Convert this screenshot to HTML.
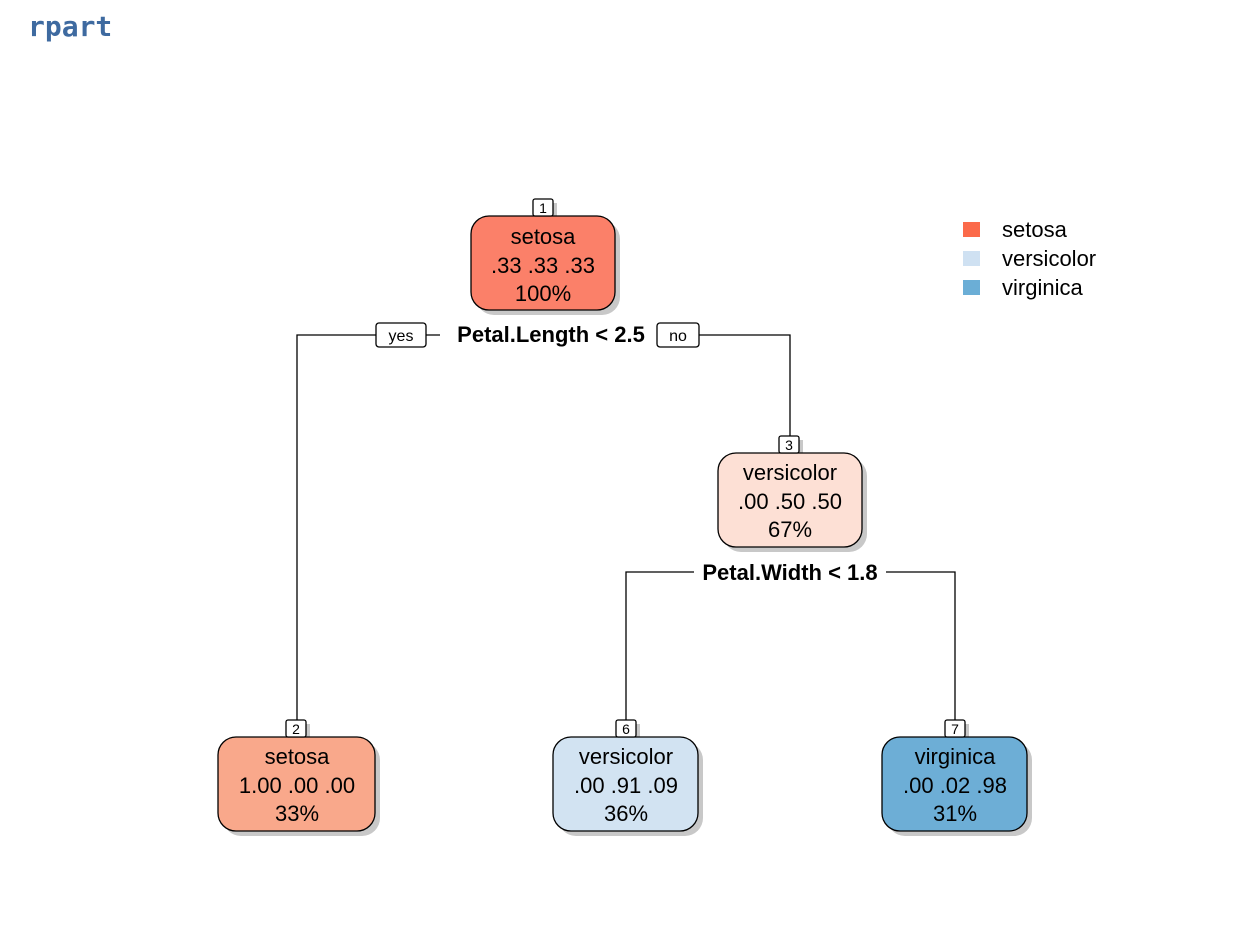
<!DOCTYPE html>
<html><head><meta charset="utf-8"><style>
html,body{margin:0;padding:0;background:#fff;width:1242px;height:926px;overflow:hidden}
svg{display:block}
text{font-family:"Liberation Sans",sans-serif}
</style></head><body>
<svg width="1242" height="926" viewBox="0 0 1242 926" xmlns="http://www.w3.org/2000/svg">
<text x="28" y="36" style="font-family:'DejaVu Sans Mono','Liberation Mono',monospace;font-weight:bold;font-size:28px" fill="#3e6aa0">rpart</text>
<g stroke="#000" stroke-width="1.3" fill="none">
<path d="M297 720 V335 H376 M426 335 H440 M662 335 H657 M699 335 H790 V436"/>
<path d="M626 720 V572 H694 M886 572 H955 V720"/>
</g>
<!-- shadows -->
<g fill="#c8c8c8">
<rect x="476" y="221" width="144" height="94" rx="18"/>
<rect x="723" y="458" width="144" height="94" rx="18"/>
<rect x="223" y="742" width="157" height="94" rx="18"/>
<rect x="558" y="742" width="145" height="94" rx="18"/>
<rect x="887" y="742" width="145" height="94" rx="18"/>
<rect x="537" y="203" width="20" height="17"/>
<rect x="783" y="440" width="20" height="17"/>
<rect x="290" y="724" width="20" height="17"/>
<rect x="620" y="724" width="20" height="17"/>
<rect x="949" y="724" width="20" height="17"/>
</g>
<g stroke="#000" stroke-width="1.3">
<rect x="471" y="216" width="144" height="94" rx="18" fill="#fb8069"/>
<rect x="718" y="453" width="144" height="94" rx="18" fill="#fde0d5"/>
<rect x="218" y="737" width="157" height="94" rx="18" fill="#f9a88b"/>
<rect x="553" y="737" width="145" height="94" rx="18" fill="#d2e3f2"/>
<rect x="882" y="737" width="145" height="94" rx="18" fill="#6daed6"/>
<g fill="#fff">
<rect x="533" y="199" width="20" height="17" rx="2"/>
<rect x="779" y="436" width="20" height="17" rx="2"/>
<rect x="286" y="720" width="20" height="17" rx="2"/>
<rect x="616" y="720" width="20" height="17" rx="2"/>
<rect x="945" y="720" width="20" height="17" rx="2"/>
<rect x="376" y="323" width="50" height="24" rx="3"/>
<rect x="657" y="323" width="42" height="24" rx="3"/>
</g>
</g>
<g font-size="14" text-anchor="middle" fill="#000">
<text x="543" y="213">1</text><text x="789" y="450">3</text><text x="296" y="734">2</text><text x="626" y="734">6</text><text x="955" y="734">7</text>
<text x="401" y="341" font-size="16">yes</text><text x="678" y="341" font-size="16">no</text>
</g>
<g font-size="22" text-anchor="middle" fill="#000">
<text x="543" y="244">setosa</text><text x="543" y="273">.33  .33  .33</text><text x="543" y="301">100%</text>
<text x="790" y="480">versicolor</text><text x="790" y="509">.00  .50  .50</text><text x="790" y="537">67%</text>
<text x="297" y="764">setosa</text><text x="297" y="793">1.00  .00  .00</text><text x="297" y="821">33%</text>
<text x="626" y="764">versicolor</text><text x="626" y="793">.00  .91  .09</text><text x="626" y="821">36%</text>
<text x="955" y="764">virginica</text><text x="955" y="793">.00  .02  .98</text><text x="955" y="821">31%</text>
<text x="551" y="342" font-weight="bold">Petal.Length &lt; 2.5</text>
<text x="790" y="580" font-weight="bold">Petal.Width &lt; 1.8</text>
</g>
<rect x="963" y="222" width="17" height="15" fill="#fb6a4a"/>
<rect x="963" y="251" width="17" height="15" fill="#cfe1f2"/>
<rect x="963" y="280" width="17" height="15" fill="#6baed6"/>
<g font-size="22" fill="#000">
<text x="1002" y="237">setosa</text><text x="1002" y="266">versicolor</text><text x="1002" y="295">virginica</text>
</g>
</svg>
</body></html>
